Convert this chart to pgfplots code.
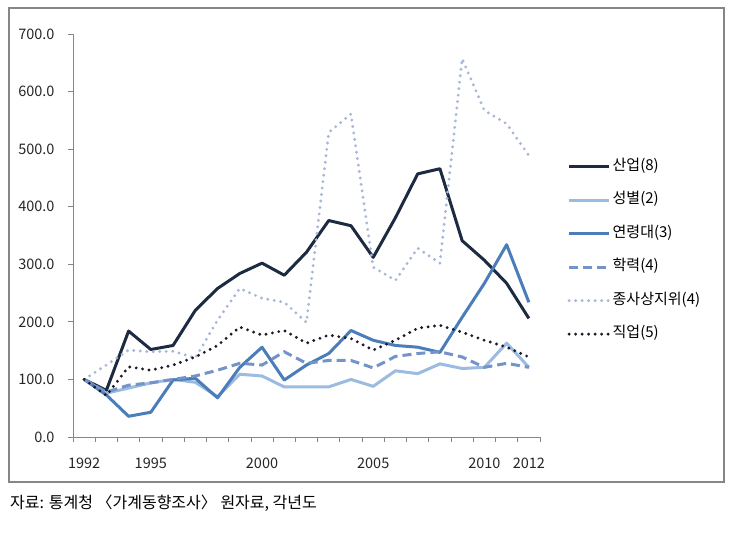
\documentclass[border=0pt]{standalone}
\usepackage{pgfplots}
\pgfplotsset{compat=1.18}
\usepackage{fontspec}
\setmainfont{Noto Sans CJK KR}
\definecolor{cNavy}{HTML}{1C2B42}
\definecolor{cLight}{HTML}{9BBBE0}
\definecolor{cMid}{HTML}{4A7DBA}
\definecolor{cDash}{HTML}{7393C9}
\definecolor{cDot}{HTML}{A8B6D8}
\definecolor{cBlack}{HTML}{1A1A28}
\definecolor{cAxis}{HTML}{868686}
\begin{document}
\begin{tikzpicture}[x=1pt,y=1pt]
\path[use as bounding box] (0,0) rectangle (731,539);
\draw[cAxis, line width=1.6pt] (9,57) rectangle (724,531);
\node[anchor=base west, inner sep=0pt, font=\fontsize{16}{19}\selectfont] at (10,31) {자료: 통계청 〈가계동향조사〉 원자료, 각년도};
\begin{axis}[
  at={(73pt,102pt)}, anchor=south west,
  scale only axis, width=467pt, height=403pt,
  xmin=1991.5, xmax=2012.5, ymin=0, ymax=700,
  axis x line*=bottom, axis y line*=left,
  axis line style={cAxis, line width=0.8pt, -},
  xtick={1992,1995,2000,2005,2010,2012},
  xticklabels={1992,1995,2000,2005,2010,2012},
  major x tick style={draw=none},
  minor xtick={1991.5,1992.5,...,2012.5},
  minor x tick style={cAxis, line width=0.8pt},
  minor tick length=5pt,
  ytick={0,100,...,700},
  major y tick style={cAxis, line width=0.8pt},
  major tick length=5pt,
  tick align=outside,
  /pgf/number format/assume math mode=true,
  y tick label style={/pgf/number format/fixed, /pgf/number format/fixed zerofill, /pgf/number format/precision=1},
  xticklabel style={yshift=-12pt},
  yticklabel style={xshift=-10pt},
  tick label style={font=\fontsize{14.5}{17}\selectfont, text=black!85},
  legend style={draw=none, fill=none, at={(1.052,0.698)}, anchor=north west,
    font=\fontsize{15}{18}\selectfont, row sep=16pt,
    nodes={text height=10.5pt, text depth=3pt, inner sep=2pt}},
  legend cell align=left,
  legend image code/.code={\draw[#1] (0pt,0pt) -- (40pt,0pt);},
  clip=false,
]
\addplot[cNavy, line width=3pt, line join=round] coordinates {
(1992,100)(1993,81)(1994,184)(1995,152)(1996,159)(1997,220)(1998,258)(1999,284)(2000,302)(2001,281)(2002,321)(2003,376)(2004,367)(2005,312)(2006,381)(2007,457)(2008,466)(2009,341)(2010,307)(2011,267)(2012,206)};
\addlegendentry{산업(8)}
\addplot[cLight, line width=3pt, line join=round] coordinates {
(1992,100)(1993,76)(1994,85)(1995,94)(1996,100)(1997,95)(1998,70)(1999,109)(2000,106)(2001,87)(2002,87)(2003,87)(2004,100)(2005,88)(2006,115)(2007,110)(2008,127)(2009,119)(2010,121)(2011,163)(2012,121)};
\addlegendentry{성별(2)}
\addplot[cMid, line width=3pt, line join=round] coordinates {
(1992,100)(1993,73)(1994,36)(1995,43)(1996,99)(1997,102)(1998,68)(1999,121)(2000,156)(2001,99)(2002,125)(2003,145)(2004,185)(2005,168)(2006,159)(2007,156)(2008,147)(2009,208)(2010,267)(2011,334)(2012,234)};
\addlegendentry{연령대(3)}
\addplot[cDash, line width=3pt, dash pattern=on 9pt off 5pt] coordinates {
(1992,100)(1993,78)(1994,90)(1995,94)(1996,100)(1997,106)(1998,116)(1999,128)(2000,125)(2001,148)(2002,128)(2003,133)(2004,133)(2005,120)(2006,140)(2007,145)(2008,148)(2009,139)(2010,121)(2011,128)(2012,121)};
\addlegendentry{학력(4)}
\addplot[cDot, line width=3.2pt, line cap=round, dash pattern=on 0pt off 6.5pt] coordinates {
(1992,100)(1993,125)(1994,151)(1995,148)(1996,149)(1997,137)(1998,203)(1999,258)(2000,241)(2001,234)(2002,199)(2003,529)(2004,561)(2005,295)(2006,272)(2007,328)(2008,302)(2009,657)(2010,567)(2011,544)(2012,489)};
\addlegendentry{종사상지위(4)}
\addplot[cBlack, line width=3.2pt, line cap=round, dash pattern=on 0pt off 6.5pt] coordinates {
(1992,100)(1993,72)(1994,122)(1995,116)(1996,125)(1997,139)(1998,159)(1999,191)(2000,177)(2001,185)(2002,163)(2003,177)(2004,171)(2005,151)(2006,168)(2007,189)(2008,194)(2009,182)(2010,168)(2011,156)(2012,139)};
\addlegendentry{직업(5)}
\end{axis}
\end{tikzpicture}
\end{document}
